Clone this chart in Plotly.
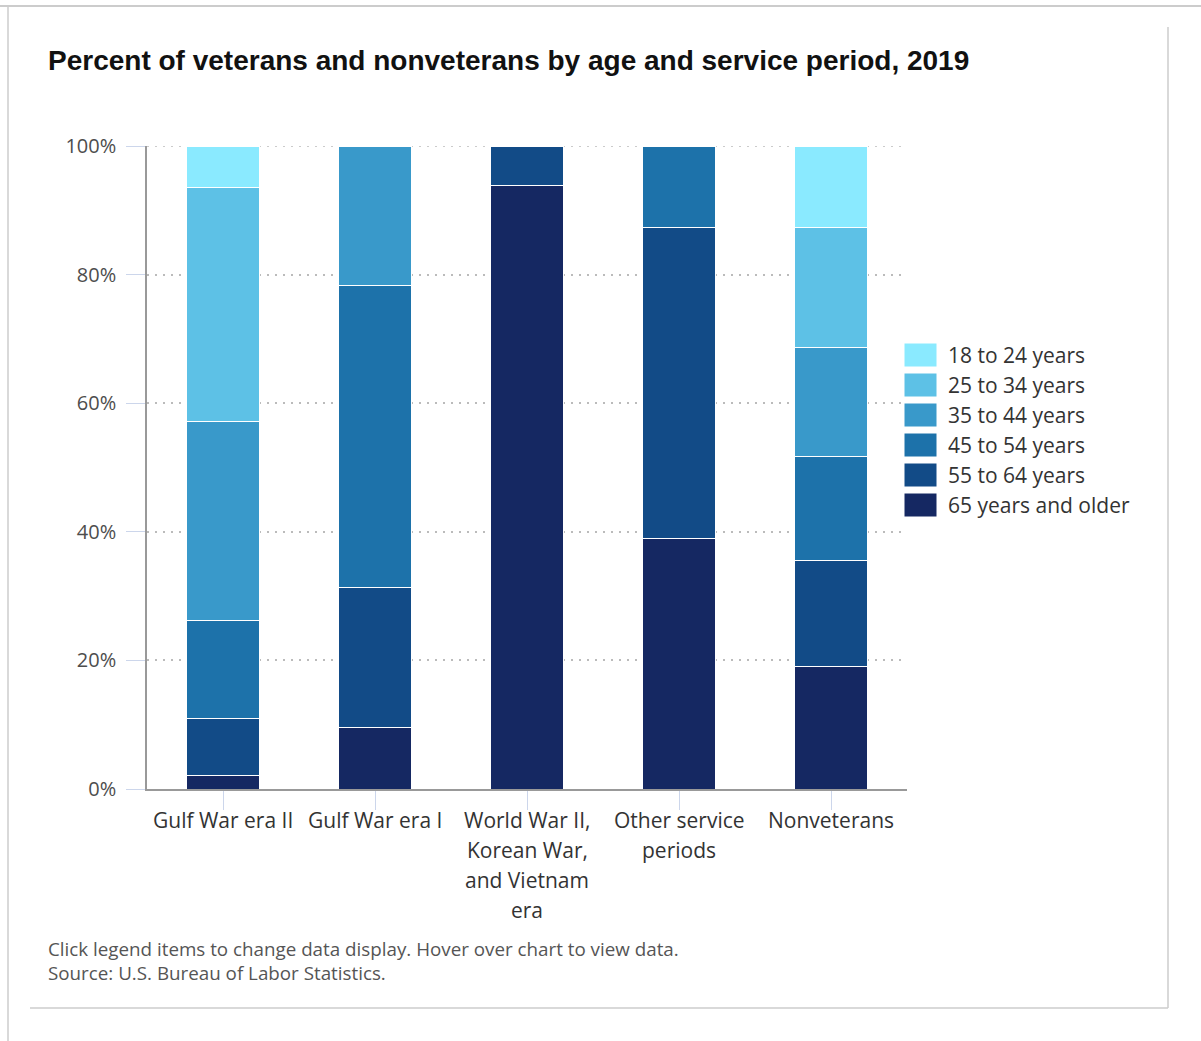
import plotly.graph_objects as go

# Service periods (x categories); multi-line labels are split into rows
categories = [
    "Gulf War era II",
    "Gulf War era I",
    "World War II, Korean War, and Vietnam era",
    "Other service periods",
    "Nonveterans",
]
category_lines = [
    ["Gulf War era II"],
    ["Gulf War era I"],
    ["World War II,", "Korean War,", "and Vietnam", "era"],
    ["Other service", "periods"],
    ["Nonveterans"],
]

# Percent distribution by age group (None = no segment)
age_groups = [
    "65 years and older",
    "55 to 64 years",
    "45 to 54 years",
    "35 to 44 years",
    "25 to 34 years",
    "18 to 24 years",
]
pct_65_plus = [2.1, 9.6, 93.8, 39.0, 19.0]
pct_55_64 = [8.9, 21.8, 6.2, 48.3, 16.6]
pct_45_54 = [15.2, 46.9, None, 12.7, 16.1]
pct_35_44 = [30.9, 21.7, None, None, 16.9]
pct_25_34 = [36.4, None, None, None, 18.7]
pct_18_24 = [6.5, None, None, None, 12.7]
series_values = [pct_65_plus, pct_55_64, pct_45_54, pct_35_44, pct_25_34, pct_18_24]

colors = ["#152862", "#124B87", "#1D72AA", "#3999CA", "#5DC1E6", "#8AEAFF"]

y_ticks = [0, 20, 40, 60, 80, 100]
y_tick_labels = ["0%", "20%", "40%", "60%", "80%", "100%"]

W, H = 1201, 1041
ML, MR, MT, MB = 147, 294, 146, 252
PW, PH = W - ML - MR, H - MT - MB


def xp(px):
    return (px - ML) / PW


def yp(py):
    return (H - MB - py) / PH


fig = go.Figure()
for name, vals, col in zip(age_groups, series_values, colors):
    fig.add_trace(go.Bar(
        name=name,
        x=categories,
        y=vals,
        marker=dict(color=col, line=dict(color="#ffffff", width=1)),
        hovertemplate="%{x}<br>" + name + ": %{y:.1f}%<extra></extra>",
        showlegend=False,
    ))

annotations = []

# Category labels under the x axis, one row per line
for cat, lines in zip(categories, category_lines):
    for i, line in enumerate(lines):
        annotations.append(dict(
            x=cat, xref="x", y=0, yref="paper",
            yanchor="middle", xanchor="center",
            yshift=-(31 + 30 * i),
            text=line, showarrow=False,
            font=dict(family="Open Sans", size=21, color="#333333"),
        ))

grid_style = dict(color="#bbbbbb", width=1.5, dash="2px,6px")

# Legend: swatches and labels, lightest (youngest) first
shapes = [
    # dotted gridline along the top of the value range
    dict(type="line", xref="paper", yref="y", x0=0, x1=1, y0=y_ticks[-1], y1=y_ticks[-1],
         line=grid_style, layer="below"),
]
for i, (name, col) in enumerate(reversed(list(zip(age_groups, colors)))):
    top = 343 + 30 * i
    shapes.append(dict(
        type="rect", xref="paper", yref="paper",
        x0=xp(904), x1=xp(937), y0=yp(top + 24), y1=yp(top),
        fillcolor=col, line=dict(color="#ffffff", width=1), layer="above",
    ))
    annotations.append(dict(
        x=xp(946), y=yp(top + 12), xref="paper", yref="paper",
        xanchor="left", yanchor="middle", text=name, showarrow=False,
        font=dict(family="Open Sans", size=21, color="#333333"),
    ))

# Footnotes
for text, cy in [
    ("Click legend items to change data display. Hover over chart to view data.", 949),
    ("Source: U.S. Bureau of Labor Statistics.", 973),
]:
    annotations.append(dict(
        x=xp(46), y=yp(cy), xref="paper", yref="paper",
        xanchor="left", yanchor="middle", text=text, showarrow=False,
        font=dict(family="Open Sans", size=18.8, color="#555555"),
    ))

# Page frame around the chart
frame = "#cccccc"
shapes += [
    dict(type="line", xref="paper", yref="paper", x0=xp(0), x1=xp(W), y0=yp(6), y1=yp(6),
         line=dict(color=frame, width=2)),
    dict(type="line", xref="paper", yref="paper", x0=xp(8), x1=xp(8), y0=yp(6), y1=yp(H),
         line=dict(color=frame, width=1.5)),
    dict(type="line", xref="paper", yref="paper", x0=xp(1168), x1=xp(1168), y0=yp(27), y1=yp(1008),
         line=dict(color=frame, width=1.5)),
    dict(type="line", xref="paper", yref="paper", x0=xp(30), x1=xp(1168), y0=yp(1008), y1=yp(1008),
         line=dict(color=frame, width=1.5)),
]

fig.update_layout(
    width=W, height=H,
    margin=dict(l=ML, r=MR, t=MT, b=MB, pad=0),
    paper_bgcolor="#ffffff", plot_bgcolor="#ffffff",
    barmode="stack", bargap=0.52,
    title=dict(
        text="<b>Percent of veterans and nonveterans by age and service period, 2019</b>",
        x=48 / W, xref="container", xanchor="left",
        y=1 - 60 / H, yref="container", yanchor="middle",
        font=dict(family="Liberation Sans", size=28, color="#111111"),
    ),
    xaxis=dict(
        range=[-0.5, 4.5],
        showticklabels=False,
        ticks="outside", ticklen=19, tickcolor="#ccd6eb", tickwidth=1,
        showline=True, linecolor="#999999", linewidth=1.5,
        showgrid=False, zeroline=False, fixedrange=True,
    ),
    yaxis=dict(
        range=[0, 100],
        tickmode="array", tickvals=y_ticks, ticktext=y_tick_labels,
        ticks="outside", ticklen=19, tickcolor="#ccd6eb", tickwidth=1,
        ticklabelstandoff=6,
        tickfont=dict(family="Open Sans", size=20, color="#4d4d4d"),
        showline=True, linecolor="#999999", linewidth=1.5,
        showgrid=True, gridcolor=grid_style["color"], gridwidth=grid_style["width"],
        griddash=grid_style["dash"],
        zeroline=False, fixedrange=True,
    ),
    annotations=annotations,
    shapes=shapes,
    showlegend=False,
)

fig.write_html("out.html")
